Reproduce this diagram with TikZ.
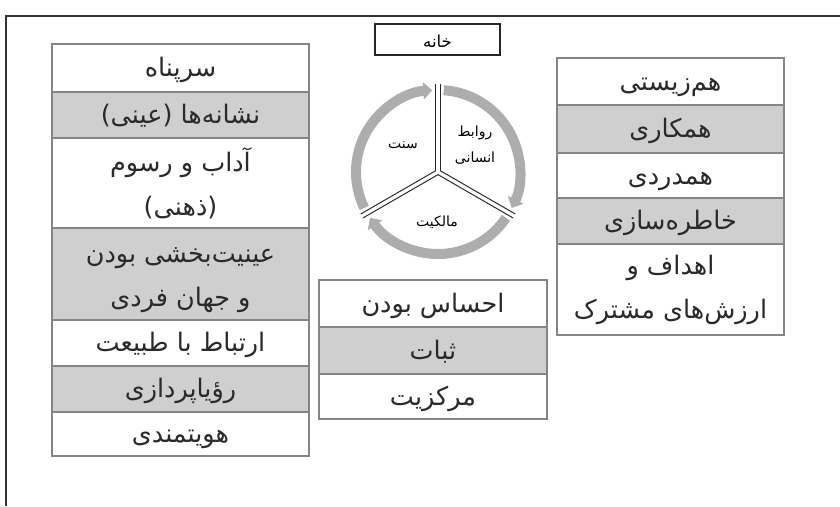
\documentclass[tikz,border=0pt]{standalone}
\usepackage{fontspec}
\usetikzlibrary{arrows.meta}
\newfontfamily\arabicfont[Script=Arabic]{DejaVu Sans}
\TeXXeTstate=1
\definecolor{cellgray}{HTML}{CFCFCF}
\definecolor{bordergray}{HTML}{858585}
\definecolor{ringgray}{HTML}{ADADAD}
\definecolor{txt}{HTML}{2A2A2A}
\newcommand{\rl}[1]{\beginR #1\endR}
\begin{document}
\begin{tikzpicture}[x=1pt,y=1pt,
  cell/.style={draw=bordergray, line width=1.4pt, fill=white, inner sep=0pt,
    align=center, text=txt, font=\arabicfont\fontsize{25.5}{44}\selectfont},
  celltext/.style={inner sep=0pt, align=center, text=txt,
    font=\arabicfont\fontsize{25.5}{44}\selectfont},
  one/.style={text height=20pt, text depth=3pt},
  shade/.style={fill=cellgray},
  titlebox/.style={draw=black!85, line width=1.3pt, inner sep=0pt,
    minimum width=125pt, minimum height=31pt, text=black,
    text height=17pt, text depth=2pt,
    font=\arabicfont\fontsize{16.5}{18}\selectfont},
  ctext/.style={inner sep=0pt, align=center, text=black,
    font=\arabicfont\fontsize{14}{26}\selectfont},
  ring/.style={draw=ringgray, line width=10pt,
    -{Triangle[width=17pt,length=9pt]}},
]
\useasboundingbox (0,0) rectangle (840,-506);
% outer frame
\draw[black!80, line width=1.6pt] (840,-16) -- (6,-16) -- (6,-506);

% title
\node[titlebox] (title) at (437.5,-39.5) {\rl{خانه}};

% left table
\begin{scope}[every node/.style={cell, minimum width=257pt}]
\node[one, minimum height=48pt] (l1) at (180.5,-68) {\rl{سرپناه}};
\node[one, shade, minimum height=46pt] (l2) at (180.5,-115) {\rl{نشانه^^^^200cها (عینی)}};
\node[minimum height=90pt] (l3) at (180.5,-183) {\rl{آداب و رسوم}\\\rl{(ذهنی)}};
\node[shade, minimum height=92pt] (l4) at (180.5,-274) {};
\node[one, minimum height=46pt] (l5) at (180.5,-343) {\rl{ارتباط با طبیعت}};
\node[one, shade, minimum height=46pt] (l6) at (180.5,-389) {\rl{رؤیاپردازی}};
\node[one, minimum height=44pt] (l7) at (180.5,-434) {\rl{هویتمندی}};
\end{scope}
\node[celltext] (l4t) at ([yshift=-6pt]l4.center) {\rl{عینیت^^^^200cبخشی بودن}\\\rl{و جهان فردی}};

% right table
\begin{scope}[every node/.style={cell, minimum width=227pt}]
\node[one, minimum height=47pt] (r1) at (670.5,-81.5) {\rl{هم^^^^200cزیستی}};
\node[one, shade, minimum height=48pt] (r2) at (670.5,-129) {\rl{همکاری}};
\node[one, minimum height=45pt] (r3) at (670.5,-175.5) {\rl{همدردی}};
\node[one, shade, minimum height=46pt] (r4) at (670.5,-221) {\rl{خاطره^^^^200cسازی}};
\node[minimum height=91pt] (r5) at (670.5,-289.5) {\rl{اهداف و}\\\rl{ارزش^^^^200cهای مشترک}};
\end{scope}

% middle table
\begin{scope}[every node/.style={cell, one, minimum width=228pt}]
\node[minimum height=47pt] (m1) at (433,-303.5) {\rl{احساس بودن}};
\node[shade, minimum height=47pt] (m2) at (433,-350.5) {\rl{ثبات}};
\node[minimum height=45pt] (m3) at (433,-396.5) {\rl{مرکزیت}};
\end{scope}

% cycle
\coordinate (C) at (438,-172);
\foreach \a in {90,-30,210}
  \draw[black!85, line width=5.5pt] (C) -- ([shift={(\a:88pt)}]C);
\foreach \a in {90,-30,210}
  \draw[white, line width=3.3pt] (C) -- ([shift={(\a:90pt)}]C);
\draw[ring] ([shift={(206:82pt)}]C) arc[start angle=206, end angle=94, radius=82pt];
\draw[ring] ([shift={(86:82pt)}]C) arc[start angle=86, end angle=-26, radius=82pt];
\draw[ring] ([shift={(-34:82pt)}]C) arc[start angle=-34, end angle=-146, radius=82pt];

\node[ctext] (sonnat) at (403,-145) {\rl{سنت}};
\node[ctext] (ravabet) at (475,-145) {\rl{روابط}\\\rl{انسانی}};
\node[ctext] (malekiat) at (437,-222) {\rl{مالکیت}};
\end{tikzpicture}
\end{document}
